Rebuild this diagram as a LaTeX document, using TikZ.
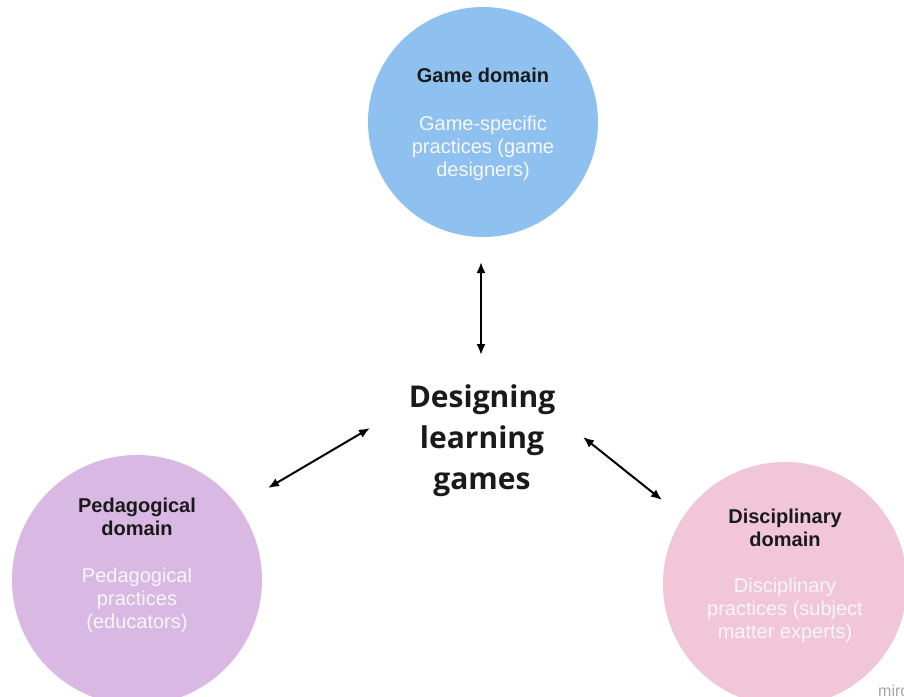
\documentclass[tikz,border=0pt]{standalone}
\usepackage{fontspec}
\setmainfont{Liberation Sans}
\newfontfamily\opensans{Open Sans}
\usetikzlibrary{arrows.meta}
\definecolor{gblue}{HTML}{8EC1EF}
\definecolor{gpurple}{HTML}{DAB8E4}
\definecolor{gpink}{HTML}{F1C6D9}
\definecolor{darktext}{HTML}{1A1A1A}
\definecolor{softwhite}{HTML}{F7F7F7}
\tikzset{
  domaincircle/.style={circle, inner sep=0pt},
  titletext/.style={anchor=base, inner sep=0pt, align=center, text=darktext,
    font=\fontsize{20}{23}\selectfont\bfseries},
  bodytext/.style={anchor=base, inner sep=0pt, align=center, text=softwhite,
    font=\fontsize{20}{23}\selectfont},
  centertext/.style={anchor=base, inner sep=0pt, align=center, text=darktext,
    font=\opensans\bfseries\fontsize{30}{41}\selectfont},
  link/.style={line width=2pt, {Latex[length=11pt,width=9pt]}-{Latex[length=11pt,width=9pt]}}
}
\begin{document}
\begin{tikzpicture}[x=1pt,y=-1pt]
\useasboundingbox (0,0) rectangle (904,696);
\fill[white] (0,0) rectangle (904,696);

% circles
\node[domaincircle, fill=gblue, minimum size=230pt] (game) at (483,122) {};
\node[domaincircle, fill=gpurple, minimum size=250pt] (peda) at (137,580) {};
\node[domaincircle, fill=gpink, minimum size=244pt] (disc) at (785,584) {};

% texts in circles (base anchor = baseline of last line)
\node[titletext] (gametitle) at (483,82) {Game domain};
\node[bodytext] (gamebody) at (483,176) {Game-specific\\practices (game\\designers)};

\node[titletext] (pedatitle) at (137,535) {Pedagogical\\domain};
\node[bodytext] (pedabody) at (137,628) {Pedagogical\\practices\\(educators)};

\node[titletext] (disctitle) at (785,546) {Disciplinary\\domain};
\node[bodytext] (discbody) at (785,638) {Disciplinary\\practices (subject\\matter experts)};

% centre
\node[centertext] (centre) at (482,489) {Designing\\learning\\games};

% arrow end points
\coordinate (gtop) at (481,262);
\coordinate (gbot) at (481,355);
\coordinate (lfar) at (268,488);
\coordinate (lnear) at (370,428);
\coordinate (rnear) at (583,437);
\coordinate (rfar) at (662,500);

\draw[link] (gtop) -- (gbot);
\draw[link] (lfar) -- (lnear);
\draw[link] (rnear) -- (rfar);

% watermark
\node[anchor=base west, inner sep=0pt, text=gray!70, font=\fontsize{16}{18}\selectfont] (miro) at (878,696) {miro};
\end{tikzpicture}
\end{document}
